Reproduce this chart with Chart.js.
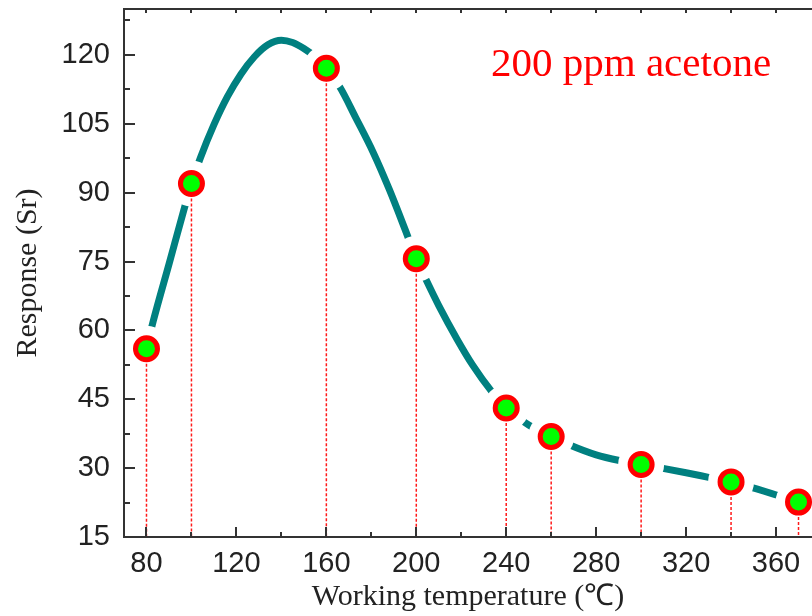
<!DOCTYPE html>
<html>
<head>
<meta charset="utf-8">
<script src="https://cdn.jsdelivr.net/npm/chart.js@4.4.1/dist/chart.umd.min.js"></script>
<style>
    html, body { margin: 0; padding: 0; background: #fff; }
    #wrap { width: 812px; height: 616px; }
</style>
</head>
<body>
<div id="wrap"><canvas id="responseChart" width="812" height="616"></canvas></div>
<script>
// measured points (working temperature in C, response Sr)
const tempPoints = [80, 100, 160, 200, 240, 260, 300, 340, 370];
const responsePoints = [56, 92, 117.1, 75.6, 43.1, 36.9, 30.8, 27, 22.6];

// fitted curve
const curveTemps = [80, 83, 90, 96.5, 100, 104, 110, 116, 122, 128, 134, 140, 145, 150, 155, 160, 166, 173, 181, 188, 195, 200, 204, 210, 218, 225, 234, 240, 250, 260, 268, 280, 291, 300, 308, 320, 330, 340, 349, 363, 370];
const curveResponse = [56, 62, 74.4, 86, 92, 97.6, 104.8, 110.9, 115.8, 119.6, 122.2, 123.2, 122.7, 121.4, 119.6, 117.1, 113, 106.4, 98.6, 90.7, 82, 75.6, 71.4, 65.4, 58.2, 52.5, 46.4, 43.1, 39.4, 36.9, 35.1, 32.9, 31.6, 30.8, 30.1, 29, 28, 27, 25.8, 23.7, 22.6];

const xTicks = [80, 120, 160, 200, 240, 280, 320, 360];
const yTicks = [15, 30, 45, 60, 75, 90, 105, 120];

const axisColor = '#333333';
const tealColor = '#008080';

document.addEventListener('DOMContentLoaded', () => {
    const markerData = tempPoints.map((t, i) => ({ x: t, y: responsePoints[i] }));

    // no extra room for edge labels, the frame fills the canvas
    function noPadding(scale) {
        scale.paddingLeft = 0;
        scale.paddingRight = 0;
        scale.paddingTop = 0;
        scale.paddingBottom = 0;
    }

    // inward ticks on the left, bottom and top edges, plus the label
    const frameTicks = {
        id: 'frameTicks',
        afterDraw(chart) {
            const { ctx, chartArea: a, scales: { x, y } } = chart;
            ctx.save();
            ctx.strokeStyle = axisColor;
            ctx.lineWidth = 2;

            // top frame line
            ctx.beginPath();
            ctx.moveTo(a.left, a.top);
            ctx.lineTo(a.right, a.top);
            ctx.stroke();

            ctx.beginPath();
            for (let v = 15; v <= 130; v += 7.5) {
                const py = Math.round(y.getPixelForValue(v));
                const len = yTicks.includes(v) ? 11 : 6;
                ctx.moveTo(a.left, py);
                ctx.lineTo(a.left + len, py);
            }
            for (let v = 80; v <= 376; v += 20) {
                const px = Math.round(x.getPixelForValue(v));
                const len = xTicks.includes(v) ? 10 : 5;
                ctx.moveTo(px, a.bottom);
                ctx.lineTo(px, a.bottom - len);
                ctx.moveTo(px, a.top);
                ctx.lineTo(px, a.top + 4);
            }
            ctx.stroke();

            ctx.fillStyle = '#ff0000';
            ctx.font = '41px "Liberation Serif", "Times New Roman", serif';
            ctx.textAlign = 'left';
            ctx.textBaseline = 'alphabetic';
            ctx.fillText('200 ppm acetone', 491, 76);
            ctx.restore();
        }
    };

    const dropLines = markerData.map(p => ({
        type: 'line',
        data: [{ x: p.x, y: p.y }, { x: p.x, y: 15 }],
        borderColor: '#ff1a1a',
        borderWidth: 1.5,
        borderDash: [3, 2],
        pointRadius: 0,
        order: 2
    }));

    const ctx = document.getElementById('responseChart').getContext('2d');
    new Chart(ctx, {
        type: 'line',
        data: {
            datasets: [
                {
                    label: 'fit',
                    data: curveTemps.map((t, i) => ({ x: t, y: curveResponse[i] })),
                    borderColor: tealColor,
                    borderWidth: 7,
                    borderCapStyle: 'round',
                    borderJoinStyle: 'round',
                    cubicInterpolationMode: 'monotone',
                    pointRadius: 0,
                    order: 4
                },
                {
                    label: 'gap',
                    data: markerData,
                    showLine: false,
                    pointRadius: 23,
                    pointBorderWidth: 0,
                    pointBackgroundColor: '#ffffff',
                    pointBorderColor: '#ffffff',
                    order: 3
                },
                ...dropLines,
                {
                    label: 'Response',
                    data: markerData,
                    showLine: false,
                    pointRadius: 11,
                    pointBorderWidth: 5,
                    pointBackgroundColor: '#00ff00',
                    pointBorderColor: '#ff0000',
                    order: 1
                }
            ]
        },
        options: {
            responsive: false,
            animation: false,
            layout: { autoPadding: false, padding: { top: 9, right: 0, left: 0, bottom: 0 } },
            plugins: {
                legend: { display: false },
                tooltip: { enabled: false }
            },
            scales: {
                x: {
                    type: 'linear',
                    min: 70,
                    max: 376,
                    afterBuildTicks: scale => { scale.ticks = xTicks.map(v => ({ value: v })); },
                    afterFit: scale => { scale.height = 79; noPadding(scale); },
                    grid: { display: false, drawTicks: false },
                    border: { display: true, color: axisColor, width: 2, z: 1 },
                    ticks: {
                        padding: 10,
                        maxRotation: 0,
                        autoSkip: false,
                        color: '#222',
                        font: { family: '"Liberation Sans", Arial, sans-serif', size: 29 }
                    },
                    title: {
                        display: true,
                        text: 'Working temperature (℃)',
                        color: '#222',
                        padding: { top: 0, bottom: 1 },
                        font: { family: '"Liberation Serif", "Times New Roman", serif', size: 30 }
                    }
                },
                y: {
                    type: 'linear',
                    min: 15,
                    max: 130,
                    afterBuildTicks: scale => { scale.ticks = yTicks.map(v => ({ value: v })); },
                    afterFit: scale => { scale.width = 124; noPadding(scale); },
                    grid: { display: false, drawTicks: false },
                    border: { display: true, color: axisColor, width: 2, z: 1 },
                    ticks: {
                        padding: 14,
                        autoSkip: false,
                        color: '#222',
                        font: { family: '"Liberation Sans", Arial, sans-serif', size: 29 }
                    },
                    title: {
                        display: true,
                        text: 'Response (Sr)',
                        color: '#222',
                        padding: { top: 10, bottom: 0 },
                        font: { family: '"Liberation Serif", "Times New Roman", serif', size: 30 }
                    }
                }
            }
        },
        plugins: [frameTicks]
    });
});
</script>
</body>
</html>
